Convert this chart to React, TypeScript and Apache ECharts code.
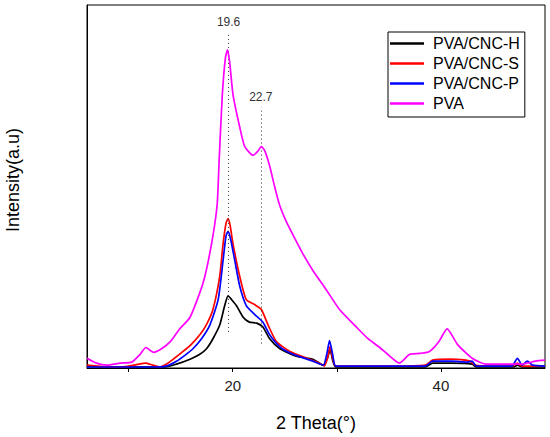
import React, { useEffect, useRef } from "react";
import * as echarts from "echarts";

const seriesNames = ["PVA/CNC-H", "PVA/CNC-S", "PVA/CNC-P", "PVA"];
const seriesColors = ["#000000", "#ff0000", "#0000ff", "#ff00ff"];

const cncH: [number, number][] = [
  [6, 2], [8, 1], [10, 1], [12, 1], [13.5, 1], [14.6, 4], [15.9, 9], [16.84, 14], [17.5, 20],
  [18.1, 30], [18.75, 44], [19.23, 64], [19.55, 74], [19.9, 70], [20.35, 64], [21.0, 52],
  [21.6, 47], [22.3, 46], [22.9, 42], [23.55, 30], [24.5, 20], [26.1, 12], [27.7, 9], [28.7, 3],
  [29.1, 10], [29.35, 19], [29.6, 8], [29.9, 1], [33, 1], [38.5, 1], [39.2, 5], [41, 5],
  [43, 4], [43.4, 1], [47, 1], [47.35, 3], [47.8, 1], [50, 1],
];

const cncS: [number, number][] = [
  [6, 3], [7, 2], [8, 1], [9, 1], [10, 2], [11, 4], [11.6, 5], [12.3, 3], [13, 1], [13.64, 4],
  [14.4, 10], [15.23, 17], [16.0, 24], [16.84, 34], [17.5, 45], [18.1, 60], [18.75, 94],
  [19.07, 127], [19.35, 148], [19.55, 153], [19.75, 146], [20.03, 127], [20.67, 94], [21.3, 70],
  [22.1, 65], [22.75, 60], [23.4, 44], [24.2, 27], [25.5, 17], [27.1, 10], [28.3, 5], [28.8, 2],
  [29.1, 10], [29.35, 22], [29.6, 10], [29.9, 2], [32, 2], [35, 2], [38.5, 3], [39.2, 8],
  [41, 9], [42.8, 7], [43.3, 3], [45, 2], [46.8, 2], [47.35, 5], [47.8, 2], [50, 2],
];

const cncP: [number, number][] = [
  [6, 1], [8, 1], [10, 1], [12, 1], [13.6, 2], [14.6, 7], [15.4, 13], [16.2, 20], [17.0, 30],
  [17.8, 44], [18.6, 70], [19.07, 110], [19.35, 135], [19.55, 140], [19.8, 132], [20.2, 110],
  [20.67, 84], [21.3, 64], [22.1, 55], [22.9, 47], [23.55, 34], [24.5, 22], [25.8, 14],
  [27.7, 7], [28.7, 3], [29.05, 15], [29.3, 28], [29.6, 14], [29.9, 2], [33, 2], [38.5, 2],
  [39.2, 7], [41, 7], [42.5, 6], [43, 7], [43.4, 2], [46.8, 2], [47.35, 10], [47.8, 3],
  [48.3, 7], [48.8, 3], [50, 2],
];

const pva: [number, number][] = [
  [6, 10], [6.9, 5], [7.9, 3], [9.2, 5], [10.3, 6], [11.1, 14], [11.66, 21], [12.4, 16],
  [13.2, 20], [14.0, 27], [14.9, 40], [15.9, 52], [17.15, 87], [17.96, 127], [18.5, 167],
  [18.7, 214], [19.0, 280], [19.3, 318], [19.5, 326], [19.7, 314], [20.03, 280], [20.67, 247],
  [21.15, 227], [21.95, 218], [22.4, 222], [22.75, 227], [23.1, 222], [23.55, 207], [24.0, 187],
  [24.5, 167], [25.15, 150], [26.0, 132], [26.74, 117], [27.7, 100], [29.0, 80], [30.26, 60],
  [31.97, 41], [33.0, 30], [34.0, 22], [35.0, 13], [36.0, 5], [37.0, 14], [38.0, 15],
  [38.9, 17], [39.8, 27], [40.6, 40], [41.6, 24], [43.0, 10], [44.3, 4], [46.2, 4], [47.8, 4],
  [49.1, 7], [50, 8],
];

const peakPositions = [19.6, 22.7];
const peakLineRanges: [number, number][] = [[37, 344], [25, 267]];

const xTicks = [10, 20, 30, 40];
const xTickLabels = [20, 40];

const FONT = "'Liberation Sans', Arial, sans-serif";

export default function App() {
  const ref = useRef<HTMLDivElement>(null);

  useEffect(() => {
    document.body.style.margin = "0";
    if (!ref.current) return;
    const chart = echarts.init(ref.current, null, { renderer: "svg" });
    const datasets = [cncH, cncS, cncP, pva];

    const series: any[] = datasets.map((d, i) => ({
      name: seriesNames[i],
      type: "line",
      data: d,
      symbol: "none",
      smooth: 0.2,
      lineStyle: { color: seriesColors[i], width: 1.7 },
      itemStyle: { color: seriesColors[i] },
      z: 2 + i,
    }));

    series.push({
      name: "peaks",
      type: "line",
      data: [],
      silent: true,
      markLine: {
        silent: true,
        symbol: "none",
        animation: false,
        lineStyle: { color: "#333", type: [1, 3], width: 1 },
        label: {
          show: true,
          position: "end",
          distance: 4,
          color: "#333",
          fontSize: 12,
          fontFamily: FONT,
        },
        data: peakPositions.map((p, i) => [
          { coord: [p, peakLineRanges[i][0]] },
          { coord: [p, peakLineRanges[i][1]], label: { formatter: String(p) } },
        ]),
      },
    });

    chart.setOption({
      animation: false,
      textStyle: { fontFamily: FONT },
      grid: {
        left: 87,
        right: 5,
        top: 5,
        bottom: 60,
        show: true,
        borderColor: "#000",
        borderWidth: 1,
        backgroundColor: "#fff",
      },
      legend: {
        data: seriesNames,
        orient: "vertical",
        left: 388,
        top: 32,
        icon: "rect",
        itemWidth: 34,
        itemHeight: 2.5,
        itemGap: 3,
        padding: [3, 5, 5, 2],
        borderColor: "#000",
        borderWidth: 1,
        backgroundColor: "#fff",
        textStyle: {
          fontSize: 16,
          color: "#000",
          fontFamily: FONT,
          padding: [0, 0, 0, 4],
          lineHeight: 17,
        },
      },
      xAxis: {
        type: "value",
        min: 6,
        max: 50,
        name: "2 Theta(°)",
        nameLocation: "middle",
        nameGap: 46,
        nameTextStyle: { fontSize: 18, color: "#000", fontFamily: FONT },
        splitLine: { show: false },
        axisLine: { show: true, lineStyle: { color: "#000", width: 1 } },
        axisTick: {
          show: true,
          inside: false,
          length: 4,
          customValues: xTicks,
          lineStyle: { color: "#000" },
        },
        axisLabel: {
          show: true,
          customValues: xTickLabels,
          margin: 10,
          fontSize: 15,
          color: "#222",
          fontFamily: FONT,
        },
      },
      yAxis: {
        type: "value",
        min: 0,
        max: 372,
        splitLine: { show: false },
        axisLine: { show: true, lineStyle: { color: "#000" } },
        axisTick: { show: false },
        axisLabel: { show: false },
      },
      graphic: [
        {
          type: "text",
          x: 13,
          y: 180,
          rotation: Math.PI / 2,
          style: {
            text: "Intensity(a.u)",
            fontSize: 18,
            fontFamily: FONT,
            fill: "#000",
            align: "center",
            verticalAlign: "middle",
          },
        },
      ],
      series,
    });

    return () => chart.dispose();
  }, []);

  return <div ref={ref} style={{ width: 550, height: 437 }} />;
}
